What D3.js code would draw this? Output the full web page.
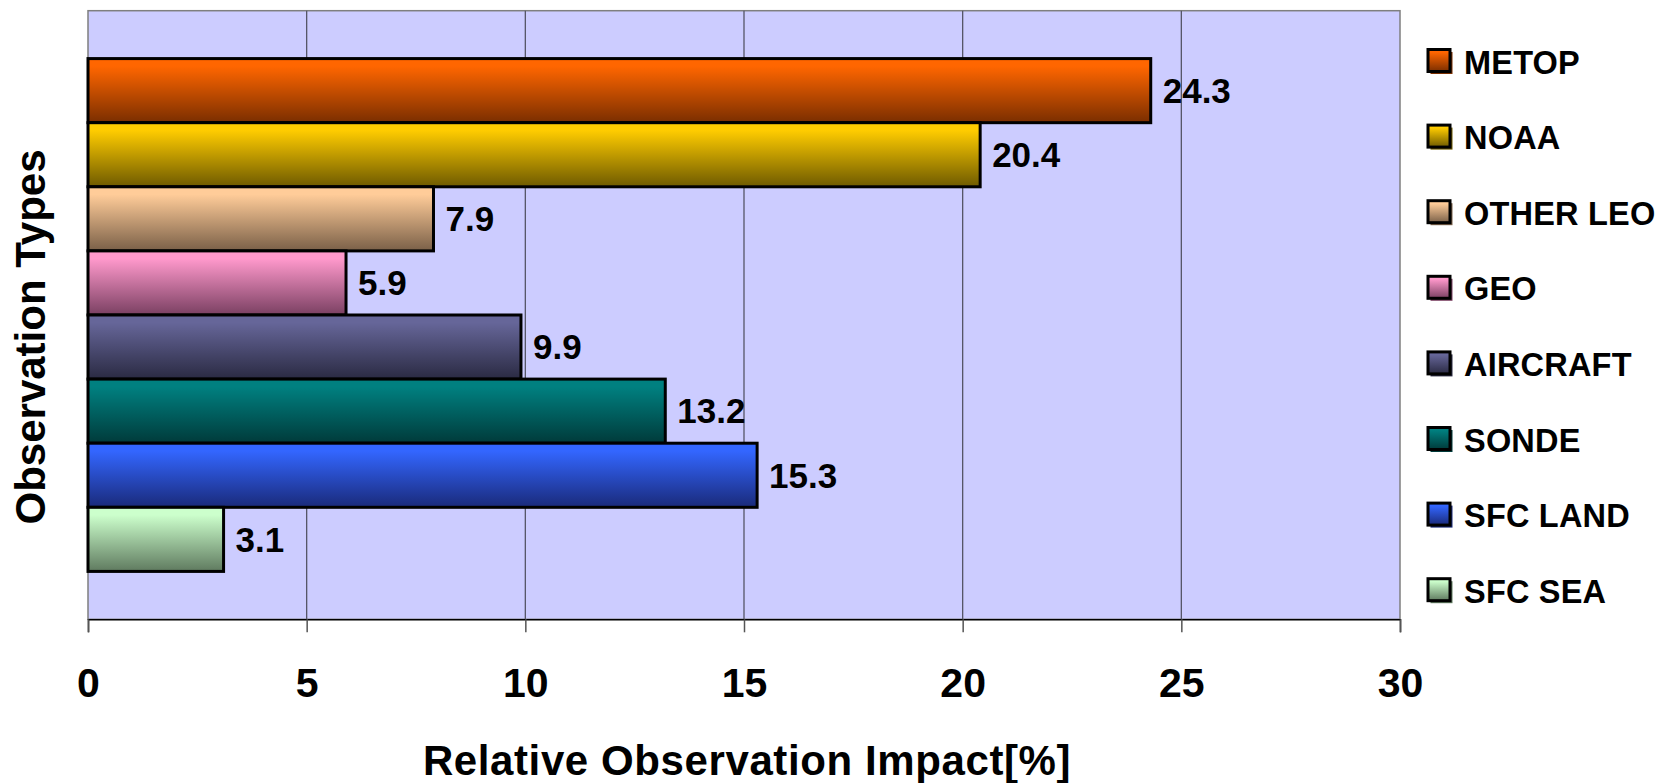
<!DOCTYPE html>
<html>
<head>
<meta charset="utf-8">
<script src="https://cdn.jsdelivr.net/npm/d3@7"></script>
<style>
  html, body { margin: 0; padding: 0; background: #fff; }
  svg text { font-family: "Liberation Sans", Arial, sans-serif; font-weight: bold; fill: #000; }
</style>
</head>
<body>
<div id="chart"></div>
<script>
// data
const series = ['METOP', 'NOAA', 'OTHER LEO', 'GEO', 'AIRCRAFT', 'SONDE', 'SFC LAND', 'SFC SEA']
const values = [24.3, 20.4, 7.9, 5.9, 9.9, 13.2, 15.3, 3.1]
const xTicks = [0, 5, 10, 15, 20, 25, 30]

// fills (top of gradient -> bottom of gradient)
const topColors = ['#ff6600', '#ffcc00', '#ffcc99', '#ff99cc', '#666699', '#008080', '#3366ff', '#ccffcc']
const bottomColors = ['#7a2e00', '#6e5a00', '#7a6048', '#7a4062', '#2a2a42', '#003a3a', '#1a2a7a', '#5f7a5f']

let w = 1661,
  h = 783
let margin = { top: 10.7, left: 88, right: 261, bottom: 163.7 }
let mainW = w - margin.left - margin.right,
  mainH = h - margin.top - margin.bottom

let x = d3.scaleLinear().domain([0, 30]).range([0, mainW])
let y = d3.scaleBand().domain(series).range([0, mainH]).paddingInner(0).paddingOuter(0.747)

let svg = d3.select('#chart').append('svg').attr('width', w).attr('height', h)

let defs = svg.append('defs')
series.forEach((s, i) => {
  let grad = defs.append('linearGradient').attr('id', 'grad' + i)
    .attr('x1', 0).attr('y1', 0).attr('x2', 0).attr('y2', 1)
  grad.append('stop').attr('offset', '0%').attr('stop-color', topColors[i])
  grad.append('stop').attr('offset', '12%').attr('stop-color', topColors[i])
  grad.append('stop').attr('offset', '100%').attr('stop-color', bottomColors[i])
})

let g = svg.append('g').attr('transform', `translate(${margin.left},${margin.top})`)

// plot area
g.append('rect').attr('width', mainW).attr('height', mainH)
  .attr('fill', '#ccccff').attr('stroke', '#7f7f7f').attr('stroke-width', 1.5)

// grid
g.selectAll('.grid').data(xTicks.filter(t => t > 0 && t < 30)).enter().append('line')
  .classed('grid', true)
  .attr('x1', d => x(d)).attr('x2', d => x(d))
  .attr('y1', 0).attr('y2', mainH)
  .attr('stroke', '#555566').attr('stroke-width', 1.3)

// x axis
let xAxis = g.append('g').classed('axis xAxis', true)
  .attr('transform', `translate(0,${mainH})`)
  .call(d3.axisBottom(x).tickValues(xTicks).tickSize(13).tickPadding(36))
xAxis.select('.domain').attr('stroke', '#000').attr('stroke-width', 1.5)
xAxis.selectAll('.tick line').attr('stroke', '#555').attr('stroke-width', 1.5)
xAxis.selectAll('.tick text').attr('font-size', 41).attr('fill', '#000')
  .style('font-family', '"Liberation Sans", Arial, sans-serif').style('font-weight', 'bold')

// bars
let bars = g.selectAll('.bar').data(series).enter().append('g').classed('bar', true)
bars.append('rect')
  .attr('x', 0)
  .attr('y', d => y(d))
  .attr('width', (d, i) => x(values[i]))
  .attr('height', y.bandwidth())
  .attr('fill', (d, i) => `url(#grad${i})`)
  .attr('stroke', '#000').attr('stroke-width', 3)

// labels
bars.append('text').classed('label', true)
  .text((d, i) => d3.format('.1f')(values[i]))
  .attr('x', (d, i) => x(values[i]) + 12)
  .attr('y', d => y(d) + y.bandwidth() / 2 + 12.3)
  .attr('font-size', 35)

// axis titles
svg.append('text').text('Relative Observation Impact[%]')
  .attr('x', margin.left + mainW / 2 + 3).attr('y', 775)
  .attr('text-anchor', 'middle').attr('font-size', 42).attr('letter-spacing', 0.6)

svg.append('text').text('Observation Types')
  .attr('transform', 'translate(45,337) rotate(-90)')
  .attr('text-anchor', 'middle').attr('font-size', 42)

// legends
let legY = d3.scalePoint().domain(series).range([60.5, 589.7])
let legends = svg.selectAll('.legend').data(series).enter().append('g').classed('legend', true)
  .attr('transform', d => `translate(1428,${legY(d)})`)
legends.append('rect').attr('x', 2.5).attr('y', -8.5).attr('width', 22).attr('height', 22)
  .attr('fill', (d, i) => bottomColors[i])
legends.append('rect').attr('x', 0).attr('y', -11).attr('width', 22).attr('height', 22)
  .attr('fill', (d, i) => `url(#grad${i})`).attr('stroke', '#000').attr('stroke-width', 3)
legends.append('text').text(d => d).attr('x', 36).attr('y', 13)
  .attr('font-size', 32.5).attr('letter-spacing', 0.2)
</script>
</body>
</html>
